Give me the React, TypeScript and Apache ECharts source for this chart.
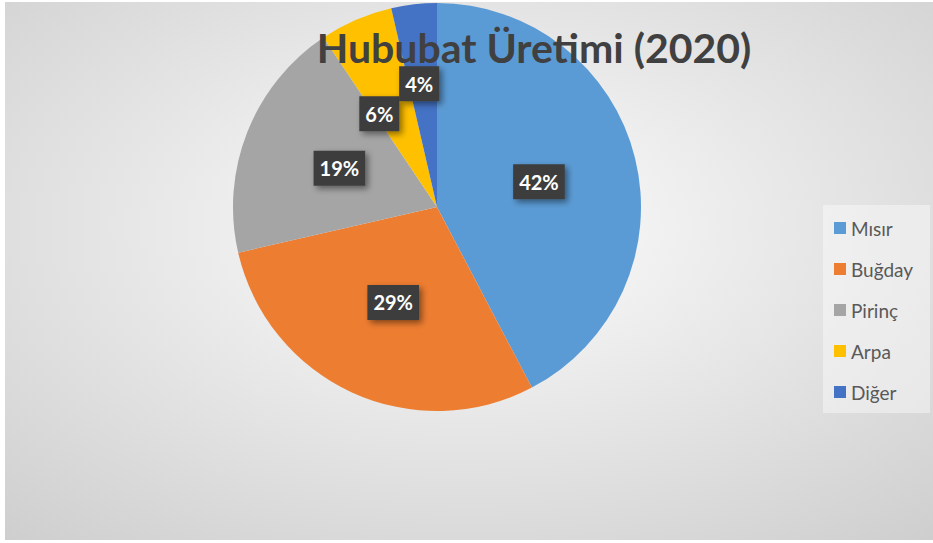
import React, { useEffect, useRef } from "react";
import * as echarts from "echarts";

const categories = ["Mısır", "Buğday", "Pirinç", "Arpa", "Diğer"];
const values = [42.3, 29.1, 19.2, 5.8, 3.6];
const colors = ["#5b9bd5", "#ed7d31", "#a5a5a5", "#ffc000", "#4472c4"];
const labelOffsets: ([number, number] | null)[] = [null, null, null, [-16, 3], [-6, -19]];
const titleText = "Hububat Üretimi (2020)";

const FONT = "Lato, 'Noto Sans', sans-serif";

export default function App() {
  const ref = useRef<HTMLDivElement>(null);
  useEffect(() => {
    if (!ref.current) return;
    const chart = echarts.init(ref.current, undefined, { renderer: "svg" });
    const data = categories.map((name, i) => {
      const item: any = { name, value: values[i], itemStyle: { color: colors[i] } };
      if (labelOffsets[i]) item.label = { offset: labelOffsets[i] };
      return item;
    });
    chart.setOption({
      animation: false,
      graphic: [
        {
          type: "rect",
          z: -10,
          shape: { x: 5, y: 2, width: 928, height: 538 },
          style: {
            fill: new echarts.graphic.RadialGradient(0.5, 0.42, 1.0, [
              { offset: 0, color: "#fdfdfd" },
              { offset: 1, color: "#c0c0c0" },
            ]),
          },
        },
        {
          type: "rect",
          z: -5,
          shape: { x: 823, y: 205, width: 107, height: 208 },
          style: { fill: "rgba(255,255,255,0.4)" },
        },
        {
          type: "text",
          z: 100,
          x: 534,
          y: 47,
          style: {
            text: titleText,
            textAlign: "center",
            textVerticalAlign: "middle",
            fontFamily: FONT,
            fontWeight: "bold",
            fontSize: 41,
            lineHeight: 36,
            fill: "#404040",
          },
        },
      ],
      legend: {
        orient: "vertical",
        left: 823,
        top: 205,
        padding: [11, 8, 10, 11],
        itemWidth: 12,
        itemHeight: 12,
        itemGap: 17,
        icon: "rect",
        data: categories,
        textStyle: { fontFamily: FONT, fontSize: 19, lineHeight: 24, color: "#595959" },
      },
      series: [
        {
          type: "pie",
          center: [437, 207],
          radius: 204,
          startAngle: 90,
          clockwise: true,
          avoidLabelOverlap: false,
          minShowLabelAngle: 0,
          labelLayout: { hideOverlap: false },
          data,
          label: {
            show: true,
            position: "inside",
            formatter: (p: any) => `${Math.round(p.percent)}%`,
            fontFamily: FONT,
            fontWeight: "bold",
            fontSize: 20,
            color: "#ffffff",
            backgroundColor: "#3c3c3c",
            padding: [8, 6, 7, 6],
            shadowColor: "rgba(0,0,0,0.45)",
            shadowBlur: 6,
            shadowOffsetX: 3,
            shadowOffsetY: 3,
          },
          labelLine: { show: false },
          emphasis: { disabled: true },
        },
      ],
    });
    return () => chart.dispose();
  }, []);
  return (
    <div
      ref={ref}
      style={{ position: "absolute", left: 0, top: 0, width: 933, height: 543 }}
    />
  );
}
